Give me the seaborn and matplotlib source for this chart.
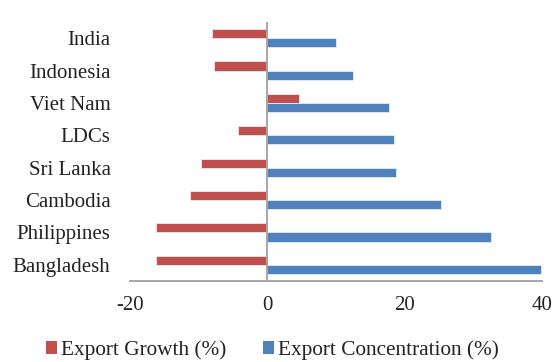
import matplotlib
matplotlib.use("Agg")
import matplotlib.pyplot as plt
from matplotlib.patches import Patch
import seaborn as sns
import pandas as pd

countries = ["India", "Indonesia", "Viet Nam", "LDCs", "Sri Lanka",
             "Cambodia", "Philippines", "Bangladesh"]
export_growth = [-8.0, -7.7, 4.6, -4.3, -9.6, -11.3, -16.2, -16.2]
export_concentration = [10.0, 12.5, 17.7, 18.4, 18.7, 25.3, 32.6, 39.9]
series_names = ["Export Growth (%)", "Export Concentration (%)"]
x_ticks = [-20, 0, 20, 40]

colors = {series_names[0]: "#C0504D", series_names[1]: "#4F81BD"}

df = pd.DataFrame({
    "country": countries * 2,
    "value": export_growth + export_concentration,
    "series": [series_names[0]] * len(countries) + [series_names[1]] * len(countries),
})

sns.set_theme(style="white")
plt.rcParams["font.family"] = ["Liberation Serif", "DejaVu Serif"]

fig = plt.figure(figsize=(5.54, 3.62), dpi=100)
ax = fig.add_axes([130 / 554, 1 - 281 / 362, 412 / 554, 259 / 362])

sns.barplot(data=df, y="country", x="value", hue="series", order=countries,
            hue_order=series_names, palette=colors, saturation=1, orient="h",
            width=0.56, edgecolor="#E6ECF5", linewidth=0.6, ax=ax, legend=False)

ax.set_xlim(-20, 40)
ax.set_xticks(x_ticks)
ax.set_xticklabels([str(t) for t in x_ticks])
ax.set_xlabel("")
ax.set_ylabel("")
for s in ["top", "right", "left"]:
    ax.spines[s].set_visible(False)
ax.spines["bottom"].set_color("#A6A6A6")
ax.spines["bottom"].set_linewidth(1.4)
ax.axvline(0, color="#A6A6A6", linewidth=1.4, zorder=3)
ax.tick_params(axis="x", length=0, pad=11, labelsize=15, colors="#222222")
ax.tick_params(axis="y", length=0, pad=14, labelsize=15, colors="#222222")

handles = [Patch(facecolor=colors[n], edgecolor="none") for n in series_names]
fig.legend(handles, series_names, loc="center", bbox_to_anchor=(272.5 / 554, 1 - 350 / 362),
           ncol=2, frameon=False, fontsize=15.3, handlelength=0.52, handleheight=0.52,
           handletextpad=0.2, columnspacing=1.7, labelcolor="#222222")

fig.savefig("out.png", dpi=100)
